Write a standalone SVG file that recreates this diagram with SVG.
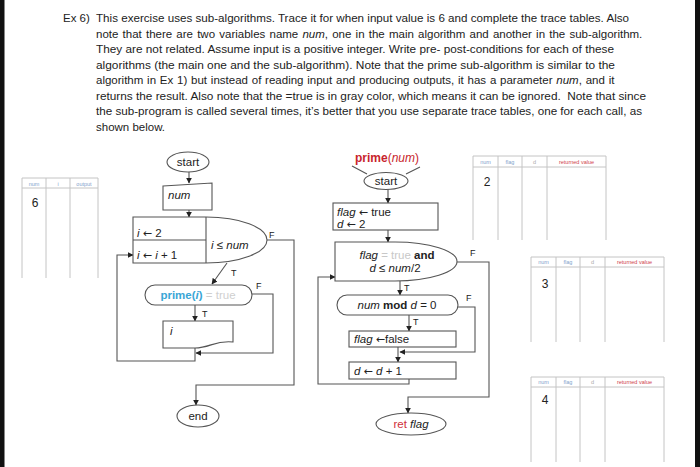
<svg xmlns="http://www.w3.org/2000/svg" width="700" height="467" viewBox="0 0 700 467">
<style>
text{font-family:"Liberation Sans","Open Sans",sans-serif;fill:#222}
.para{font-size:11.5px}
.lbl{font-size:11.5px}
.arr{font-family:"DejaVu Sans",sans-serif;font-size:11px}
.sm{font-size:9px}
.hd{font-size:5.5px;text-anchor:middle}
.blue{fill:#7fa3cc}
.red{fill:#d0434c}
.gray{fill:#aaa}
.val{font-size:12px;text-anchor:middle}
.shape{fill:#fff;stroke:#555;stroke-width:1.1}
.conn{fill:none;stroke:#555;stroke-width:1.1}
.tbl{stroke:#c4c4c4;stroke-width:1;fill:none}
.mid{text-anchor:middle}
</style>
<defs>
<marker id="ah" viewBox="0 0 10 10" refX="9" refY="5" markerWidth="6" markerHeight="6" orient="auto" markerUnits="userSpaceOnUse">
<path d="M0,0 L10,5 L0,10 Z" fill="#222"/>
</marker>
</defs>
<rect width="700" height="467" fill="#fff"/>
<rect x="0" y="0" width="4.5" height="467" fill="#111"/>
<rect x="695" y="0" width="5" height="467" fill="#111"/>

<g id="instructions" class="para">
<text x="63" y="22">Ex 6)</text>
<text x="96" y="22" textLength="533" lengthAdjust="spacingAndGlyphs">This exercise uses sub-algorithms. Trace it for when input value is 6 and complete the trace tables. Also</text>
<text x="96" y="37.5" word-spacing="1">note that there are two variables name <tspan font-style="italic">num</tspan>, one in the main algorithm and another in the sub-algorithm.</text>
<text x="96" y="53" textLength="518" lengthAdjust="spacingAndGlyphs">They are not related. Assume input is a positive integer. Write pre- post-conditions for each of these</text>
<text x="96" y="68.5" textLength="519" lengthAdjust="spacingAndGlyphs">algorithms (the main one and the sub-algorithm). Note that the prime sub-algorithm is similar to the</text>
<text x="96" y="84" word-spacing="0.6">algorithm in Ex 1) but instead of reading input and producing outputs, it has a parameter <tspan font-style="italic">num</tspan>, and it</text>
<text x="96" y="99.5" textLength="550" lengthAdjust="spacingAndGlyphs">returns the result. Also note that the =true is in gray color, which means it can be ignored.&#160; Note that since</text>
<text x="96" y="115" textLength="546" lengthAdjust="spacingAndGlyphs">the sub-program is called several times, it’s better that you use separate trace tables, one for each call, as</text>
<text x="96" y="130.5" textLength="69" lengthAdjust="spacingAndGlyphs">shown below.</text>
</g>

<g id="table-main">
<path class="tbl" d="M22,178 H98 M22,188 H98 M22,178 V278 M46,178 V278 M70,178 V278 M98,178 V278"/>
<text class="hd blue" x="34" y="185.5">num</text>
<text class="hd blue" x="58" y="185.5">i</text>
<text class="hd blue" x="84" y="185.5">output</text>
<text class="val" x="35" y="207">6</text>
</g>

<g id="table-call1">
<path class="tbl" d="M473,156 H606 M473,167 H606 M473,156 V240 M498,156 V240 M522,156 V240 M547,156 V240 M606,156 V240"/>
<text class="hd blue" x="485.5" y="163.5">num</text>
<text class="hd blue" x="510" y="163.5">flag</text>
<text class="hd gray" x="534.5" y="163.5">d</text>
<text class="hd red" x="576.5" y="163.5">returned value</text>
<text class="val" x="487" y="186">2</text>
</g>

<g id="table-call2">
<path class="tbl" d="M531,257 H664 M531,267 H664 M531,257 V342 M556,257 V342 M580,257 V342 M605,257 V342 M664,257 V342"/>
<text class="hd blue" x="543.5" y="264">num</text>
<text class="hd blue" x="568" y="264">flag</text>
<text class="hd gray" x="592.5" y="264">d</text>
<text class="hd red" x="634.5" y="264">returned value</text>
<text class="val" x="545" y="288">3</text>
</g>

<g id="table-call3">
<path class="tbl" d="M531,377 H664 M531,387 H664 M531,377 V462 M556,377 V462 M580,377 V462 M605,377 V462 M664,377 V462"/>
<text class="hd blue" x="543.5" y="384">num</text>
<text class="hd blue" x="568" y="384">flag</text>
<text class="hd gray" x="592.5" y="384">d</text>
<text class="hd red" x="634.5" y="384">returned value</text>
<text class="val" x="545" y="404">4</text>
</g>

<g id="connectors">
<path class="conn" d="M189,172 V183" marker-end="url(#ah)"/>
<path class="conn" d="M189,210 V217" marker-end="url(#ah)"/>
<path class="conn" d="M227,263 L212,284" marker-end="url(#ah)"/>
<path class="conn" d="M267,240 H294 V385 H196 V405" marker-end="url(#ah)"/>
<path class="conn" d="M252,294 H273 V353 H196" marker-end="url(#ah)"/>
<path class="conn" d="M195,305 V321" marker-end="url(#ah)"/>
<path class="conn" d="M195,348 V361 H117 V255 H133" marker-end="url(#ah)"/>
<path class="conn" d="M352,166 L367,174 M420,167 L406,174"/>
<path class="conn" d="M388,189 V203" marker-end="url(#ah)"/>
<path class="conn" d="M388,230 V242" marker-end="url(#ah)"/>
<path class="conn" d="M400,281 V295" marker-end="url(#ah)"/>
<path class="conn" d="M457,262 H489 V397 H408 V413" marker-end="url(#ah)"/>
<path class="conn" d="M458,307 H475 V352 H400" marker-end="url(#ah)"/>
<path class="conn" d="M409,315 V331" marker-end="url(#ah)"/>
<path class="conn" d="M398,347 V362" marker-end="url(#ah)"/>
<path class="conn" d="M409,379 V384 H318 V277 H335" marker-end="url(#ah)"/>
<g class="sm">
<text x="269" y="238">F</text>
<text x="231" y="276">T</text>
<text x="256" y="289">F</text>
<text x="202" y="317">T</text>
<text x="470" y="256">F</text>
<text x="404" y="291">T</text>
<text x="466" y="301">F</text>
<text x="413" y="325">T</text>
</g>
</g>

<g id="main-start">
<ellipse class="shape" cx="188" cy="162" rx="21" ry="10"/>
<text class="lbl mid" x="188" y="166">start</text>
</g>
<g id="main-input">
<path class="shape" d="M163,186 L212,183 V210 H163 Z"/>
<text class="lbl" x="168" y="199" font-style="italic">num</text>
</g>
<g id="main-loop">
<path class="shape" d="M133,217 H206 A61,23 0 0 1 206,263 H133 Z"/>
<path class="conn" d="M133,240 H206 M206,217 V263"/>
<text class="lbl" x="137" y="237"><tspan font-style="italic">i</tspan> <tspan class="arr">←</tspan> 2</text>
<text class="lbl" x="137" y="259"><tspan font-style="italic">i</tspan> <tspan class="arr">←</tspan> <tspan font-style="italic">i</tspan> + 1</text>
<text class="lbl" x="211" y="249"><tspan font-style="italic">i</tspan> ≤ <tspan font-style="italic">num</tspan></text>
</g>
<g id="main-prime">
<rect class="shape" x="145" y="285" width="107" height="20" rx="10"/>
<text class="lbl mid" x="198" y="299" font-size="12.5px"><tspan font-weight="bold" fill="#3aa6d6">prime(<tspan font-style="italic">i</tspan>)</tspan><tspan fill="#cfcfcf"> = true</tspan></text>
</g>
<g id="main-output">
<path class="shape" d="M163,321 H233 V342 C215,340 210,348 195,348 H163 Z"/>
<text class="lbl" x="170" y="335" font-style="italic">i</text>
</g>
<g id="main-end">
<ellipse class="shape" cx="198" cy="416" rx="21" ry="11"/>
<text class="lbl mid" x="198" y="420">end</text>
</g>

<g id="prime-title">
<text class="mid" x="387" y="162" font-size="12px" fill="#c8242c"><tspan font-weight="bold" fill="#c8242c">prime</tspan><tspan fill="#c8242c">(</tspan><tspan font-style="italic" fill="#c8242c">num</tspan><tspan fill="#c8242c">)</tspan></text>
</g>
<g id="prime-start">
<ellipse class="shape" cx="386" cy="181" rx="22" ry="8.5"/>
<text class="lbl mid" x="386" y="185">start</text>
</g>
<g id="prime-init">
<rect class="shape" x="333" y="203" width="105" height="27"/>
<text class="lbl" x="337" y="216"><tspan font-style="italic">flag</tspan> <tspan class="arr">←</tspan> true</text>
<text class="lbl" x="337" y="227.5"><tspan font-style="italic">d</tspan> <tspan class="arr">←</tspan> 2</text>
</g>
<g id="prime-loop">
<path class="shape" d="M335,242 H395 A62,19.5 0 0 1 395,281 H335 Z"/>
<text class="lbl mid" x="397" y="259"><tspan font-style="italic">flag</tspan><tspan fill="#c8c8c8"> = true</tspan><tspan font-weight="bold"> and</tspan></text>
<text class="lbl mid" x="395" y="272"><tspan font-style="italic">d</tspan> ≤ <tspan font-style="italic">num</tspan>/2</text>
</g>
<g id="prime-mod">
<rect class="shape" x="337" y="295" width="121" height="20" rx="10"/>
<text class="lbl mid" x="397" y="309"><tspan font-style="italic">num</tspan><tspan font-weight="bold"> mod </tspan><tspan font-style="italic">d</tspan> = 0</text>
</g>
<g id="prime-false">
<rect class="shape" x="349" y="331" width="107" height="16"/>
<text class="lbl" x="354" y="343"><tspan font-style="italic">flag</tspan> <tspan class="arr">←</tspan>false</text>
</g>
<g id="prime-inc">
<rect class="shape" x="349" y="362" width="107" height="17"/>
<text class="lbl" x="354" y="375"><tspan font-style="italic">d</tspan> <tspan class="arr">←</tspan> <tspan font-style="italic">d</tspan> + 1</text>
</g>
<g id="prime-ret">
<ellipse class="shape" cx="411" cy="424" rx="35" ry="11"/>
<text class="lbl mid" x="411" y="428"><tspan fill="#d0303a">ret</tspan> <tspan font-style="italic">flag</tspan></text>
</g>
</svg>
